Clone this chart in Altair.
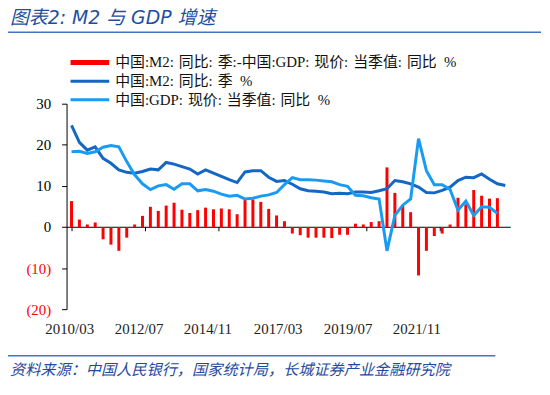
import altair as alt
import pandas as pd

# Quarterly data, 2010Q1 .. (index 0 = 2010/03)
m2 = [24.7, 20.6, 18.7, 19.5, 16.7, 15.5, 13.9, 13.3, 13.1, 13.5,
      14.1, 13.9, 15.7, 15.3, 14.7, 14.1, 12.9, 13.9, 13.1, 12.3,
      11.5, 10.8, 13.4, 13.7, 13.7, 12.1, 11.1, 11.3, 10.4, 9.3,
      8.8, 8.7, 8.5, 8.1, 8.2, 8.1, 8.5, 8.5, 8.4, 8.8,
      9.3, 11.3, 11.0, 10.5, 9.7, 8.4, 8.3, 8.9, 9.7, 11.3,
      12.1, 12.0, 12.9, 11.6, 10.5, 10.1]
gdp = [18.3, 18.4, 17.9, 18.3, 19.4, 19.8, 19.5, 15.9, 12.7, 10.5,
       9.1, 10.0, 10.3, 9.2, 10.5, 10.5, 8.8, 9.1, 8.7, 8.0,
       7.5, 7.7, 6.8, 7.0, 7.5, 7.8, 8.4, 10.3, 12.0, 11.5,
       11.5, 11.4, 11.2, 11.0, 10.3, 9.9, 7.7, 7.6, 7.1, 6.8,
       -5.8, 2.8, 5.3, 6.8, 21.5, 13.7, 10.3, 10.3, 9.1, 4.1,
       6.3, 2.8, 4.9, 4.8, 3.3]
diff = [6.3, 1.8, 0.6, 1.1, -3.0, -4.3, -5.8, -2.6, 0.6, 2.7,
        4.9, 3.9, 5.2, 5.9, 4.2, 3.4, 4.1, 4.7, 4.3, 4.5,
        4.3, 3.1, 6.7, 6.7, 6.1, 4.4, 2.8, 1.4, -1.6, -2.0,
        -2.6, -2.6, -2.6, -2.7, -1.9, -1.9, 0.8, 0.6, 1.2, 1.4,
        14.5, 8.3, 5.1, 3.6, -11.8, -5.8, -2.2, -1.6, 0.6, 7.1,
        5.5, 9.0, 7.6, 6.9, 7.0]

# x axis: months since 2010/03
tick_months = [0, 28, 56, 84, 112, 140]
x_labels = ["2010/03", "2012/07", "2014/11", "2017/03", "2019/07", "2021/11"]
x_label_pos = [-0.7, 25.7, 51.9, 78.6, 105.2, 131.4]

y_ticks = [-20, -10, 0, 10, 20, 30]

S = "\u2004"   # small gap after colons
G = "\u2002"   # gap before %
title_text = "图表2:  M2 与 GDP 增速"
legend_texts = ["中国:M2:" + S + "同比:" + S + "季:-中国:GDP:" + S + "现价:" + S + "当季值:" + S + "同比" + G + "%",
                "中国:M2:" + S + "同比:" + S + "季" + G + "%",
                "中国:GDP:" + S + "现价:" + S + "当季值:" + S + "同比" + G + "%"]
source_text = "资料来源：中国人民银行，国家统计局，长城证券产业金融研究院"

RED = "#FF0000"
DARK = "#1467C2"
LIGHT = "#1A9BF2"
W, H = 447, 207

df_m2 = pd.DataFrame({"m": [3 * i for i in range(len(m2))], "v": m2})
df_gdp = pd.DataFrame({"m": [3 * i for i in range(len(gdp))], "v": gdp})
df_diff = pd.DataFrame({"m": [3 * i for i in range(len(diff))], "v": diff})

x_enc = alt.X("m:Q",
              scale=alt.Scale(domain=[0, 165], nice=False, zero=False),
              axis=alt.Axis(values=tick_months, labels=False, title=None, grid=False,
                            tickSize=4, tickColor="black", domainColor="black",
                            tickWidth=1, domainWidth=1, offset=-83))
y_enc = alt.Y("v:Q",
              scale=alt.Scale(domain=[-20, 30], nice=False),
              axis=alt.Axis(values=y_ticks, title=None, grid=False,
                            labelExpr="datum.value < 0 ? '(' + abs(datum.value) + ')' : datum.value",
                            labelColor={"condition": {"test": "datum.value < 0", "value": RED},
                                        "value": "black"},
                            labelFont="Liberation Serif", labelFontSize=15,
                            labelPadding=11, tickSize=5, tickColor="black",
                            domainColor="black"))

bars = alt.Chart(df_diff).mark_bar(color=RED, size=3).encode(x=x_enc, y=y_enc)
line_m2 = alt.Chart(df_m2).mark_line(color=DARK, strokeWidth=3).encode(x="m:Q", y="v:Q")
line_gdp = alt.Chart(df_gdp).mark_line(color=LIGHT, strokeWidth=3).encode(x="m:Q", y="v:Q")

df_xl = pd.DataFrame({"m": x_label_pos, "t": x_labels})
xlab = alt.Chart(df_xl).mark_text(font="Liberation Serif", fontSize=15, color="#222222",
                                  baseline="middle", align="center").encode(
    x="m:Q", y=alt.value(H + 20), text="t:N")

one = pd.DataFrame({"a": [0]})


def rule(x1, x2, y, color, sw):
    return alt.Chart(one).mark_rule(color=color, strokeWidth=sw).encode(
        x=alt.value(x1), x2=alt.value(x2), y=alt.value(y))


def text(s, x, y, size, color, font, style="normal"):
    return alt.Chart(pd.DataFrame({"t": [s]})).mark_text(
        fontSize=size, color=color, font=font, fontStyle=style,
        align="left", baseline="middle").encode(x=alt.value(x), y=alt.value(y), text="t:N")


LEG_FONT = "Liberation Serif, Noto Sans CJK SC"
deco = [
    text(title_text, -57, -86, 19, "#1F4E9F", "DejaVu Sans, Noto Sans CJK SC", "italic"),
    rule(-59, 478, -72, "#4472C4", 1.5),
    rule(4, 43, -41.5, RED, 5),
    text(legend_texts[0], 49, -41.5, 15, "#111111", LEG_FONT),
    rule(4, 43, -22.5, DARK, 3),
    text(legend_texts[1], 49, -22.5, 15, "#111111", LEG_FONT),
    rule(4, 43, -4, LIGHT, 3),
    text(legend_texts[2], 49, -4, 15, "#111111", LEG_FONT),
    rule(-59, 432, 254, "#4472C4", 1.5),
    text(source_text, -57, 268, 15.3, "#1F4AA0", "Noto Sans CJK SC", "italic"),
]

chart = alt.layer(bars, line_m2, line_gdp, xlab, *deco).properties(
    width=W, height=H,
    autosize=alt.AutoSizeParams(type="none"),
    padding={"left": 59, "top": 95, "right": 32, "bottom": 75},
).configure_view(stroke=None)

chart.save("out.html", embed_options={"renderer": "svg", "actions": False})
